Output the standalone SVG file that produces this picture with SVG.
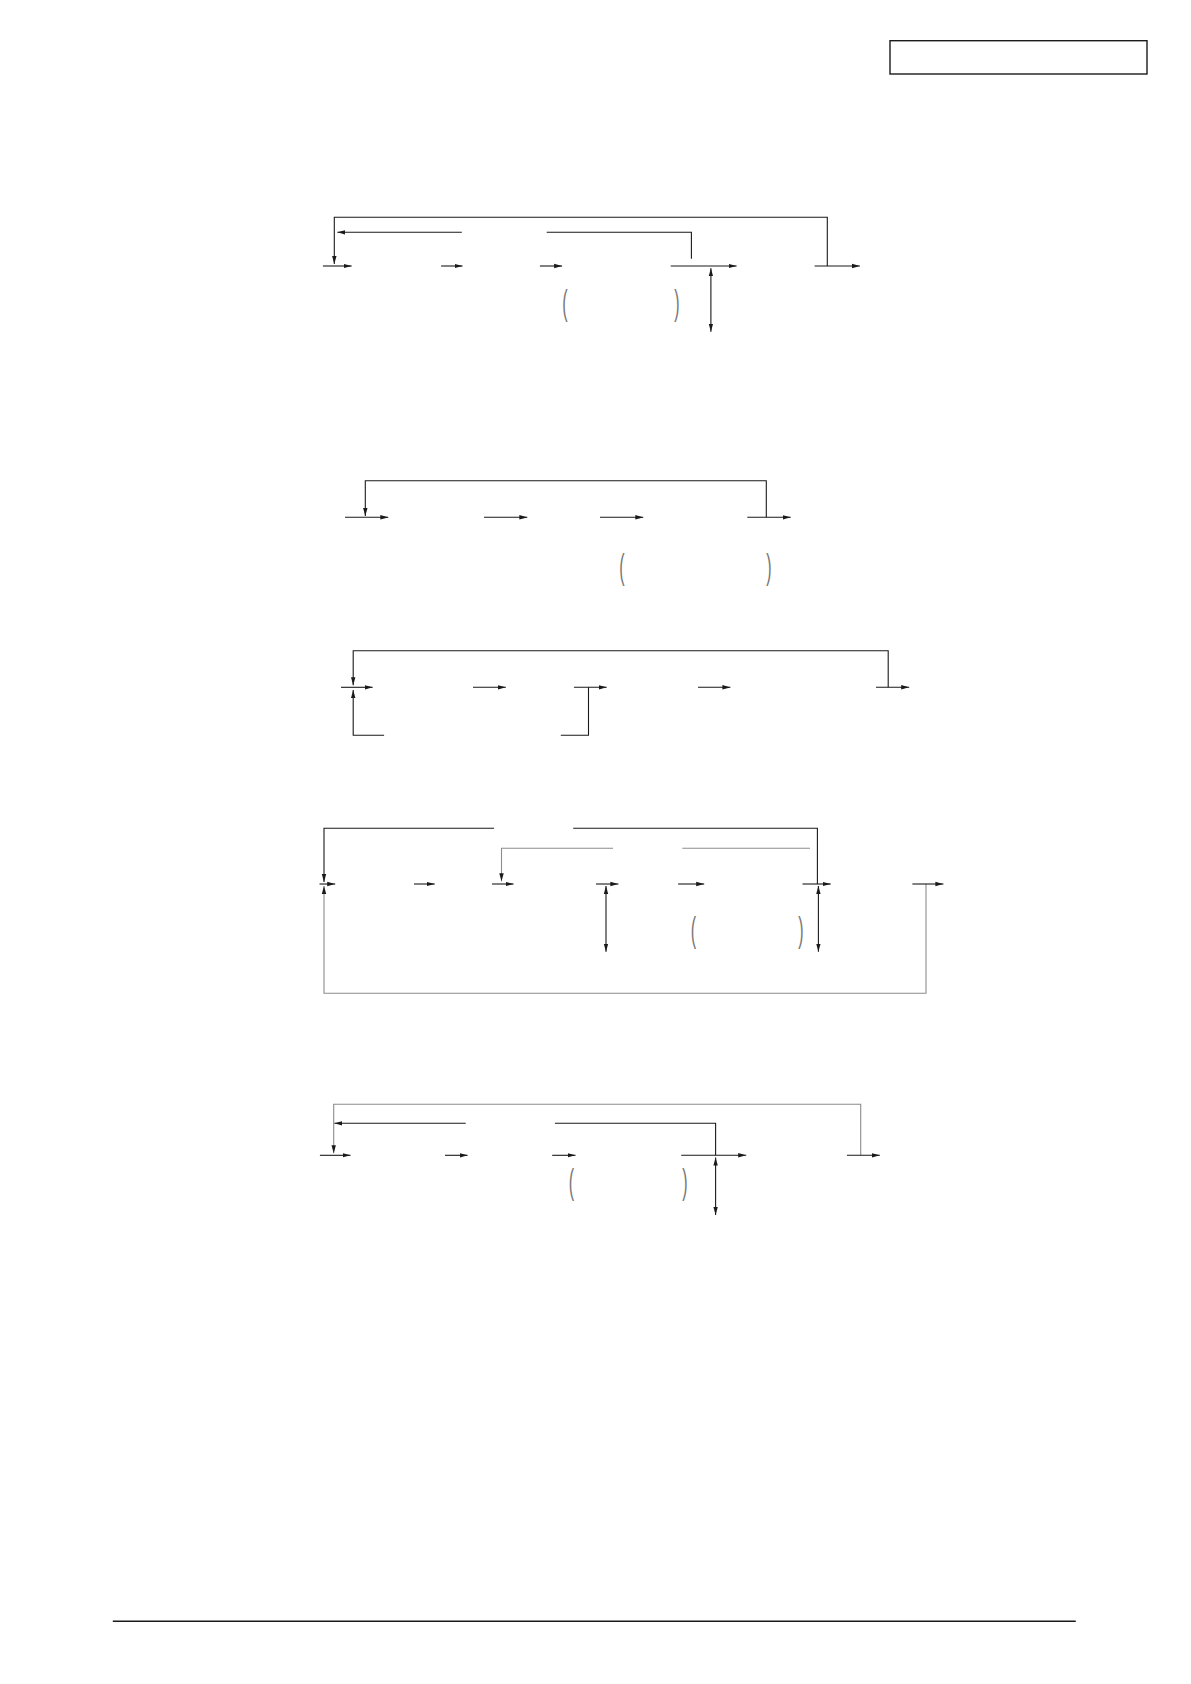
<svg xmlns="http://www.w3.org/2000/svg" width="1191" height="1684" viewBox="0 0 1191 1684">
<style>
.ln{fill:none;stroke:#1a1a1a;stroke-width:1.1}
.gr{fill:none;stroke:#8c8c8c;stroke-width:1.1}
.ar{marker-end:url(#ah)}
.da{marker-start:url(#ah);marker-end:url(#ah)}
.par{font-family:"Liberation Sans",Arial,sans-serif;font-size:16px;fill:#777;text-anchor:middle}
</style>
<defs>
<marker id="ah" markerUnits="userSpaceOnUse" markerWidth="8" markerHeight="6" refX="8" refY="3" orient="auto-start-reverse">
<path d="M0,0.8 L8,3 L0,5.2 z" fill="#1a1a1a"/>
</marker>
</defs>
<rect id="header-box" x="890" y="40.7" width="257" height="33.3" fill="none" stroke="#1a1a1a" stroke-width="1.4"/>
<line id="footer-rule" x1="112.8" y1="1621.3" x2="1075.8" y2="1621.3" stroke="#1a1a1a" stroke-width="1.4"/>

<g id="flow1">
<g id="flow1-connectors">
<path class="ln ar" d="M827.3,266 V217.3 H334.3 V264"/>
<path class="ln ar" d="M461.8,232.3 H337.4"/>
<path class="ln" d="M546.7,232.3 H691.4 V258.7"/>
<line class="ln ar" x1="322.9" y1="266" x2="351.6" y2="266"/>
<line class="ln ar" x1="441.1" y1="266" x2="462.5" y2="266"/>
<line class="ln ar" x1="539.9" y1="266" x2="562.1" y2="266"/>
<line class="ln ar" x1="670.7" y1="266" x2="736.6" y2="266"/>
<line class="ln ar" x1="814.6" y1="266" x2="859.8" y2="266"/>
<line class="ln da" x1="710.9" y1="268.3" x2="710.9" y2="331.7"/>
</g>
<text class="par" transform="translate(565,314.6) scale(1,2.2)">(</text>
<text class="par" transform="translate(677,314.6) scale(1,2.2)">)</text>
</g>

<g id="flow2">
<g id="flow2-connectors">
<path class="ln ar" d="M766.3,517.3 V480.7 H365.3 V516"/>
<line class="ln ar" x1="345" y1="517.3" x2="388.3" y2="517.3"/>
<line class="ln ar" x1="484" y1="517.3" x2="527.3" y2="517.3"/>
<line class="ln ar" x1="600" y1="517.3" x2="643.3" y2="517.3"/>
<line class="ln ar" x1="747.3" y1="517.3" x2="790.7" y2="517.3"/>
</g>
<text class="par" transform="translate(622,578.6) scale(1,2.2)">(</text>
<text class="par" transform="translate(769,578.6) scale(1,2.2)">)</text>
</g>

<g id="flow3">
<g id="flow3-connectors">
<path class="ln ar" d="M888.2,687.3 V650.7 H353.2 V685.3"/>
<path class="ln ar" d="M384.1,735.3 H353.2 V690"/>
<path class="ln" d="M560.8,735.3 H588.5 V687.3"/>
<line class="ln ar" x1="341" y1="687.3" x2="372.6" y2="687.3"/>
<line class="ln ar" x1="473" y1="687.3" x2="505.8" y2="687.3"/>
<line class="ln ar" x1="573.9" y1="687.3" x2="606.7" y2="687.3"/>
<line class="ln ar" x1="698" y1="687.3" x2="730.4" y2="687.3"/>
<line class="ln ar" x1="876" y1="687.3" x2="909.2" y2="687.3"/>
</g>
</g>

<g id="flow4">
<g id="flow4-connectors">
<path class="ln ar" d="M494,828.3 H324 V882"/>
<path class="ln" d="M573.2,828.3 H817.4 V884"/>
<path class="gr ar" d="M613,848.3 H501.5 V881.3"/>
<path class="gr" d="M682.3,848.3 H810"/>
<path class="gr ar" d="M926,884 V993.3 H324 V886"/>
<line class="ln ar" x1="319.5" y1="884" x2="335.2" y2="884"/>
<line class="ln ar" x1="414" y1="884" x2="434.7" y2="884"/>
<line class="ln ar" x1="492" y1="884" x2="513.5" y2="884"/>
<line class="ln ar" x1="596" y1="884" x2="618.4" y2="884"/>
<line class="ln ar" x1="678.1" y1="884" x2="704.2" y2="884"/>
<line class="ln ar" x1="802.5" y1="884" x2="830.7" y2="884"/>
<line class="ln ar" x1="912.4" y1="884" x2="943.4" y2="884"/>
<line class="ln da" x1="606" y1="886" x2="606" y2="951.7"/>
<line class="ln da" x1="818.4" y1="886" x2="818.4" y2="951.7"/>
</g>
<text class="par" transform="translate(693.5,942.3) scale(1,2.2)">(</text>
<text class="par" transform="translate(801,942.3) scale(1,2.2)">)</text>
</g>

<g id="flow5">
<g id="flow5-connectors">
<path class="gr ar" d="M860.7,1155.3 V1104.3 H333.7 V1153.3"/>
<path class="ln ar" d="M465.7,1123.3 H334.4"/>
<path class="ln" d="M554.9,1123.3 H715.6 V1155.3"/>
<line class="ln ar" x1="319.9" y1="1155.3" x2="350.5" y2="1155.3"/>
<line class="ln ar" x1="445" y1="1155.3" x2="467.6" y2="1155.3"/>
<line class="ln ar" x1="552.2" y1="1155.3" x2="575.5" y2="1155.3"/>
<line class="ln ar" x1="681.2" y1="1155.3" x2="746.2" y2="1155.3"/>
<line class="ln ar" x1="846.9" y1="1155.3" x2="879.8" y2="1155.3"/>
<line class="ln da" x1="715.6" y1="1157.5" x2="715.6" y2="1215"/>
</g>
<text class="par" transform="translate(571.5,1193.9) scale(1,2.2)">(</text>
<text class="par" transform="translate(685,1193.9) scale(1,2.2)">)</text>
</g>
</svg>
